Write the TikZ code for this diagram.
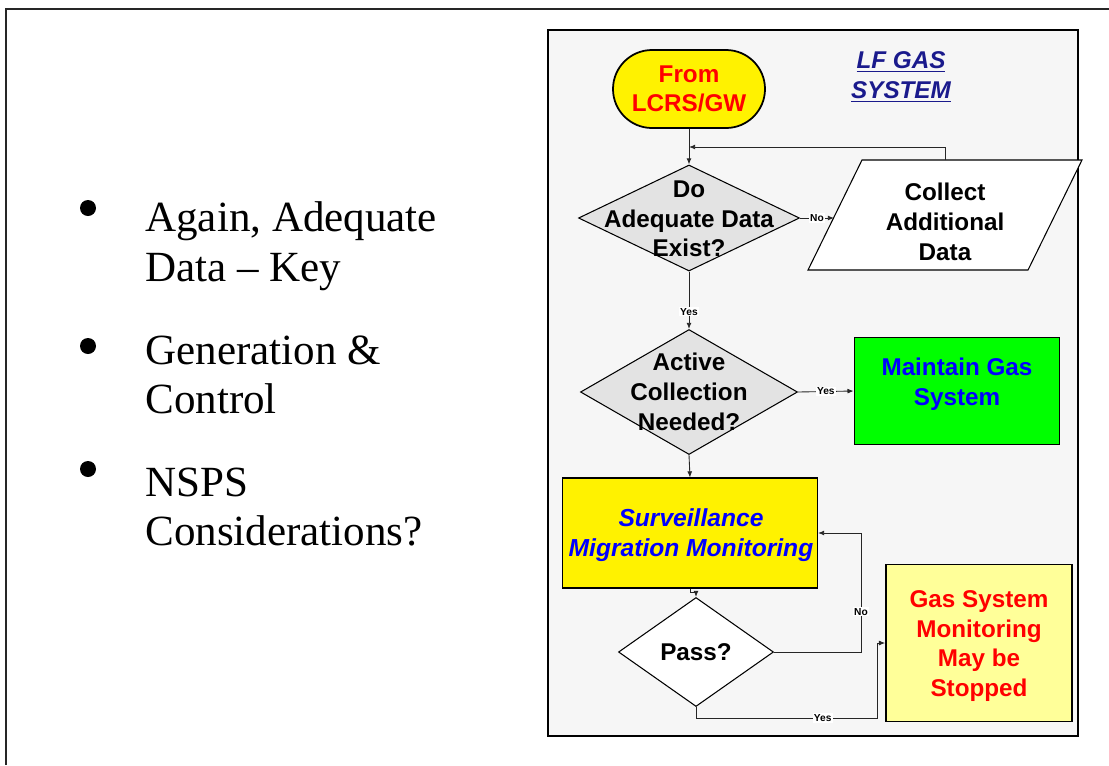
\documentclass[tikz,border=0pt]{standalone}
\usepackage{fontspec}
\setmainfont{Liberation Serif}
\setsansfont{Liberation Sans}
\usetikzlibrary{shapes.geometric,arrows.meta,positioning}
\definecolor{panelgray}{HTML}{F6F6F6}
\definecolor{diagray}{HTML}{E3E3E3}
\definecolor{paleyellow}{HTML}{FFFF99}
\definecolor{navytext}{HTML}{1A1A8C}
\def\px{0.02cm}
\tikzset{
  flow text/.style={font=\sffamily\bfseries\fontsize{13.8}{16.9}\selectfont, align=center},
  flow line/.style={draw=black!85, line width=0.5pt},
  flow arrow/.style={flow line, -{Latex[length=3.5pt,width=2.8pt]}},
  line label/.style={fill=white, inner sep=0.6pt, font=\sffamily\bfseries\fontsize{5.8}{6.5}\selectfont},
  decision/.style={diamond, draw, line width=0.6pt, inner sep=0pt},
  procbox/.style={rectangle, draw, inner sep=0pt},
  bullet item/.style={anchor=west, align=left, inner sep=0pt, font=\fontsize{24.5}{28.3}\selectfont},
  bullet dot/.style={circle, fill=black, inner sep=0pt, minimum size=16*\px}
}
\begin{document}
\begin{tikzpicture}[x=\px, y=-\px]
\useasboundingbox (0,0) rectangle (1109,765);
% slide frame
\draw[line width=1.2pt, black!85] (6,765) -- (6,9) -- (1109,9);

% bullets
\node[bullet dot] (dot1) at (88,208) {};
\node[bullet item] (item1) at (145,246) {Again, Adequate\\Data -- Key};
\node[bullet dot] (dot2) at (88,346) {};
\node[bullet item] (item2) at (145,375) {Generation \&\\Control};
\node[bullet dot] (dot3) at (88,469) {};
\node[bullet item] (item3) at (145,507) {NSPS\\Considerations?};

% flowchart panel
\draw[line width=1.2pt, fill=panelgray] (548,30) rectangle (1078,736);

\node[flow text, draw, line width=1pt, fill=yellow, text=red, rounded corners=0.78cm,
      minimum width=152*\px, minimum height=78*\px, inner sep=0pt] (start) at (689,89) {From\\LCRS/GW};
\node[flow text, font=\sffamily\bfseries\itshape\fontsize{13.8}{16.9}\selectfont, text=navytext]
      (title) at (901,77) {\underline{LF GAS}\\\underline{SYSTEM}};

% first question
\node[decision, fill=diagray, minimum width=221*\px, minimum height=106*\px] (adequate) at (689,218) {};
\node[flow text] (adequatetxt) at (689,219) {Do\\Adequate Data\\Exist?};

% collect data (parallelogram)
\draw[line width=0.6pt, fill=white] (862,160) -- (1082,160) -- (1028,270) -- (808,270) -- cycle;
\node[flow text] (collect) at (945,222) {Collect\\Additional\\Data};
\coordinate (collecttop) at (945,160);
\coordinate (collectleft) at (834,218);
\coordinate (join) at (689,147);

% second question
\node[decision, fill=diagray, minimum width=217*\px, minimum height=125*\px] (active) at (689,392) {};
\node[flow text] (activetxt) at (689,392) {Active\\Collection\\Needed?};

\node[procbox, line width=1pt, fill=green, minimum width=205*\px, minimum height=107*\px] (maintain) at (957,391) {};
\node[flow text, text=blue] (maintaintxt) at (957,384) {Maintain Gas\\System};

\node[procbox, line width=0.6pt, fill=yellow, minimum width=255*\px, minimum height=110*\px] (surv) at (690,533) {};
\node[flow text, font=\sffamily\bfseries\itshape\fontsize{14}{16.9}\selectfont, text=blue]
      (survtxt) at (691,535) {Surveillance\\Migration Monitoring};

\node[decision, fill=white, minimum width=155*\px, minimum height=109*\px] (pass) at (696,652) {};
\node[flow text] (passtxt) at (696,652) {Pass?};

\node[procbox, line width=1pt, fill=paleyellow, minimum width=186*\px, minimum height=157*\px] (stop) at (979,643) {};
\node[flow text, text=red] (stoptxt) at (979,646) {Gas System\\Monitoring\\May be\\Stopped};

% connectors
\draw[flow arrow] (start) -- (adequate);
\draw[flow arrow] (collecttop) |- (join);
\draw[flow arrow] (adequate.east) -- node[line label] {No} (collectleft);
\draw[flow arrow] (adequate.south) -- node[line label, pos=0.7] {Yes} (active.north);
\draw[flow arrow] (active.east) -- node[line label] {Yes} (maintain.west);
\draw[flow arrow] (active.south) -- (surv.north);
\draw[flow arrow] (surv.south) -- ++(0,4) -| (pass.north);
\draw[flow arrow] (pass.east) -- ++(87,0) |- node[line label, pos=0.17] {No} (surv.east);
\draw[flow arrow] (pass.south) -- ++(0,11) -- node[line label, pos=0.7] {Yes} ++(181,0) |- (stop.west);
\end{tikzpicture}
\end{document}
